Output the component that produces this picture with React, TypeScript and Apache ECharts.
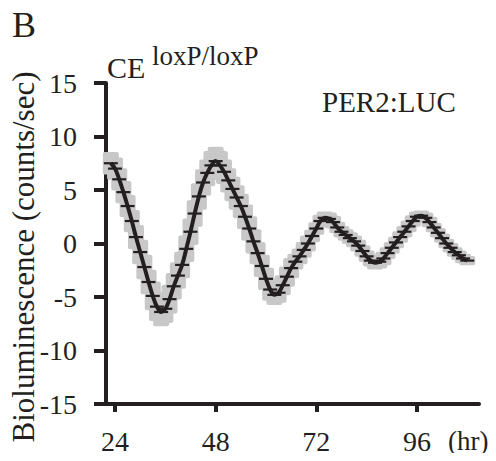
import React, { useEffect, useRef } from "react";
import * as echarts from "echarts";

// Sampling start (hr); one value per hour
const startHour = 23;

// Mean PER2:LUC bioluminescence (counts/sec), hourly from 23 h to 108 h
const meanValues = [
  7.5, 7.0, 6.0, 4.8, 3.5, 2.1, 0.6, -0.8, -2.2, -3.6,
  -4.9, -5.9, -6.4, -6.1, -5.2, -4.0, -3.0, -2.0, -0.5, 1.1,
  2.8, 4.4, 5.7, 6.6, 7.3, 7.7, 7.3, 6.7, 5.9, 5.1,
  4.3, 3.5, 2.5, 1.4, 0.2, -0.9, -2.1, -3.3, -4.3, -4.8,
  -4.6, -3.9, -3.1, -2.3, -1.7, -1.2, -0.6, 0.0, 0.7, 1.4,
  2.1, 2.4, 2.3, 2.0, 1.5, 1.1, 0.8, 0.5, 0.2, -0.2,
  -0.7, -1.2, -1.6, -1.8, -1.7, -1.4, -0.9, -0.4, 0.1, 0.6,
  1.1, 1.6, 2.1, 2.5, 2.6, 2.4, 2.0, 1.5, 1.0, 0.5,
  0.0, -0.4, -0.8, -1.1, -1.4, -1.6,
];

// SEM half-widths, hourly
const semValues = [
  0.9, 0.9, 0.9, 0.9, 0.9, 0.9, 1.0, 1.0, 1.0, 1.0,
  1.2, 1.2, 1.2, 1.2, 1.2, 1.1, 1.1, 1.1, 1.1, 1.1,
  1.1, 1.1, 1.1, 1.1, 1.2, 1.2, 1.2, 1.0, 1.0, 1.0,
  1.0, 1.0, 1.0, 1.0, 1.0, 0.9, 0.9, 0.9, 0.9, 0.8,
  0.8, 0.8, 0.8, 0.8, 0.6, 0.6, 0.6, 0.6, 0.45, 0.45,
  0.45, 0.45, 0.45, 0.45, 0.4, 0.4, 0.4, 0.4, 0.4, 0.4,
  0.4, 0.4, 0.4, 0.5, 0.5, 0.5, 0.4, 0.4, 0.4, 0.4,
  0.4, 0.4, 0.4, 0.35, 0.35, 0.35, 0.35, 0.3, 0.3, 0.3,
  0.3, 0.3, 0.3, 0.3, 0.3, 0.3,
];

const xTicks = [24, 48, 72, 96];
const yMin = -15;
const yMax = 15;
const yStep = 5;

const FONT = "Liberation Serif, Times New Roman, serif";
const BLACK = "#231f20";
const GRAY = "#c8c8c8";

export default function App() {
  const ref = useRef<HTMLDivElement>(null);

  useEffect(() => {
    if (!ref.current) return;
    const chart = echarts.init(ref.current, undefined, { renderer: "svg" });

    const hours = meanValues.map((_, i) => startHour + i);
    const meanData = hours.map((h, i) => [h, meanValues[i]]);
    const errData = hours.map((h, i) => [
      h,
      meanValues[i] - semValues[i],
      meanValues[i] + semValues[i],
    ]);

    const option: any = {
      animation: false,
      grid: { left: 106, right: 17, top: 83, bottom: 57, containLabel: false },
      xAxis: {
        type: "value",
        min: 21.85,
        max: 110.8,
        axisLine: { show: true, onZero: false, lineStyle: { color: BLACK, width: 4 } },
        axisTick: {
          show: true,
          customValues: xTicks,
          length: 8,
          lineStyle: { color: BLACK, width: 4 },
        },
        axisLabel: {
          customValues: xTicks,
          color: BLACK,
          fontFamily: FONT,
          fontSize: 28,
          margin: 37,
          verticalAlign: "middle",
        },
        splitLine: { show: false },
      },
      yAxis: {
        type: "value",
        min: yMin,
        max: yMax,
        interval: yStep,
        axisLine: { show: true, onZero: false, lineStyle: { color: BLACK, width: 4 } },
        axisTick: { show: true, length: 12, lineStyle: { color: BLACK, width: 4 } },
        axisLabel: {
          color: BLACK,
          fontFamily: FONT,
          fontSize: 28,
          margin: 29,
        },
        splitLine: { show: false },
      },
      series: [
        {
          type: "custom",
          data: errData,
          clip: false,
          renderItem: (params: any, api: any) => {
            const x = api.value(0);
            const lo = api.coord([x, api.value(1)]);
            const hi = api.coord([x, api.value(2)]);
            const hw = 8;
            return {
              type: "rect",
              shape: { x: lo[0] - hw, y: hi[1] - 1.5, width: hw * 2, height: lo[1] - hi[1] + 3, r: 2 },
              style: { fill: GRAY },
            };
          },
          z: 1,
        },
        {
          type: "line",
          data: meanData,
          smooth: 0.4,
          showSymbol: false,
          lineStyle: { color: BLACK, width: 4 },
          z: 2,
        },
        {
          type: "custom",
          data: meanData,
          renderItem: (params: any, api: any) => {
            const p = api.coord([api.value(0), api.value(1)]);
            return {
              type: "line",
              shape: { x1: p[0] - 7, y1: p[1], x2: p[0] + 7, y2: p[1] },
              style: { stroke: BLACK, lineWidth: 2.2 },
            };
          },
          z: 3,
        },
      ],
      graphic: [
        { type: "text", x: 12, y: 25, style: { text: "B", font: `36px ${FONT}`, fill: BLACK, textAlign: "left", textVerticalAlign: "middle" } },
        { type: "text", x: 107, y: 67, style: { text: "CE", font: `30px ${FONT}`, fill: BLACK, textAlign: "left", textVerticalAlign: "middle" } },
        { type: "text", x: 152, y: 56, style: { text: "loxP/loxP", font: `27px ${FONT}`, fill: BLACK, textAlign: "left", textVerticalAlign: "middle" } },
        { type: "text", x: 322, y: 102, style: { text: "PER2:LUC", font: `29px ${FONT}`, fill: BLACK, textAlign: "left", textVerticalAlign: "middle" } },
        { type: "text", x: 448, y: 441, style: { text: "(hr)", font: `27px ${FONT}`, fill: BLACK, textAlign: "left", textVerticalAlign: "middle" } },
        {
          type: "text",
          x: 23,
          y: 257,
          rotation: Math.PI / 2,
          style: { text: "Bioluminescence (counts/sec)", font: `31px ${FONT}`, fill: BLACK, textAlign: "center", textVerticalAlign: "middle" },
        },
      ],
    };

    chart.setOption(option);
    return () => chart.dispose();
  }, []);

  return <div ref={ref} style={{ width: 496, height: 461, margin: -8 }} />;
}
